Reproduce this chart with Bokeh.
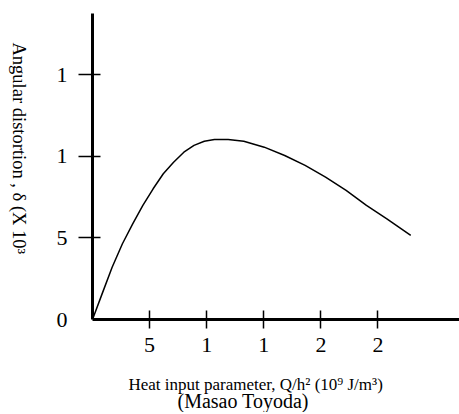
import math
from bokeh.plotting import figure
from bokeh.models import Range1d, FixedTicker, LinearAxis, Label
from bokeh.layouts import row, column
from bokeh.embed import file_html
from bokeh.resources import INLINE

# Data (heat input parameter vs angular distortion)
heat_input = [0.0, 0.84, 1.72, 2.62, 3.52, 4.41, 5.31, 6.20, 7.10, 8.00, 8.89, 9.79, 10.68,
              11.88, 13.25, 15.04, 16.83, 18.62, 20.41, 22.21, 23.99, 25.78, 27.87]
distortion = [0.0, 1.57, 3.20, 4.64, 5.86, 6.99, 8.01, 8.93, 9.64, 10.25, 10.67, 10.92, 11.03,
              11.03, 10.92, 10.56, 10.05, 9.44, 8.72, 7.91, 6.99, 6.17, 5.15]

x_ticks = [5, 10, 15, 20, 25]
x_tick_labels = ["5", "1", "1", "2", "2"]
y_ticks = [5, 10, 15]
y_label_ticks = [0, 5, 10, 15]
y_tick_labels = ["0", "5", "1", "1"]

x_title = "Heat input parameter, Q/h\u00b2  (10\u2079 J/m\u00b3)"
x_subtitle = "(Masao Toyoda)"
y_title = "Angular distortion , \u03b4 (X 10\u00b3"

FONT = "Liberation Serif"
W = 459
H = 412
LEFT_W = 36
MAIN_H = 366


def no_frame_align(f):
    try:
        f.frame_align = False
    except Exception:
        pass
    return f


def blank(width, height, xr, yr):
    f = figure(width=width, height=height, output_backend="svg", toolbar_location=None,
               x_range=xr, y_range=yr, x_axis_location=None, y_axis_location=None,
               min_border_left=0, min_border_right=0, min_border_top=0, min_border_bottom=0,
               outline_line_color=None, background_fill_color="white", border_fill_color="white")
    f.grid.visible = False
    return no_frame_align(f)


# narrow strip holding the vertical y-axis title (data coords = page pixels)
side = blank(LEFT_W, H, Range1d(0, LEFT_W), Range1d(H, 0))
side.add_layout(Label(x=18, y=42, text=y_title, angle=-math.pi / 2,
                      text_font=FONT, text_font_size="18.5px", text_color="black",
                      text_align="left", text_baseline="middle"))

# bottom strip holding the two-line x-axis title (data coords = page pixels)
bottom = blank(W - LEFT_W, H - MAIN_H, Range1d(LEFT_W, W), Range1d(H, MAIN_H))
bottom.add_layout(Label(x=128, y=384, text=x_title, text_font=FONT, text_font_size="17px",
                        text_color="black", text_align="left", text_baseline="alphabetic"))
bottom.add_layout(Label(x=177, y=400, text=x_subtitle, text_font=FONT, text_font_size="20px",
                        text_color="black", text_align="left", text_baseline="alphabetic"))

p = figure(width=W - LEFT_W, height=MAIN_H, output_backend="svg", toolbar_location=None,
           x_range=Range1d(0, 32.14), y_range=Range1d(0, 18.75),
           min_border_left=92 - LEFT_W, min_border_right=0, min_border_top=13,
           min_border_bottom=MAIN_H - 319,
           outline_line_color=None, background_fill_color="white", border_fill_color="white")
p.grid.visible = False
no_frame_align(p)

p.line(heat_input, distortion, line_color="black", line_width=1.5)

xa = p.xaxis[0]
xa.ticker = FixedTicker(ticks=x_ticks)
xa.major_label_overrides = {t: l for t, l in zip(x_ticks, x_tick_labels)}
xa.minor_tick_line_color = None
xa.axis_line_width = 3
xa.axis_line_color = "black"
xa.major_tick_in = 9
xa.major_tick_out = 9
xa.major_tick_line_width = 1.5
xa.major_label_text_font = FONT
xa.major_label_text_font_size = "22px"
xa.major_label_text_color = "black"
xa.major_label_standoff = 9

# inner y axis: line and tick marks only
ya = p.yaxis[0]
ya.ticker = FixedTicker(ticks=y_ticks)
ya.major_label_overrides = {t: "" for t in y_ticks}
ya.minor_tick_line_color = None
ya.axis_line_width = 3
ya.axis_line_color = "black"
ya.major_tick_in = 8
ya.major_tick_out = 14
ya.major_tick_line_width = 1.5
ya.major_label_standoff = 0

# outer y axis: tick labels only
ya2 = LinearAxis(ticker=FixedTicker(ticks=y_label_ticks))
ya2.major_label_overrides = {t: l for t, l in zip(y_label_ticks, y_tick_labels)}
ya2.axis_line_color = None
ya2.major_tick_line_color = None
ya2.minor_tick_line_color = None
ya2.major_tick_in = 0
ya2.major_tick_out = 0
ya2.major_label_text_font = FONT
ya2.major_label_text_font_size = "22px"
ya2.major_label_text_color = "black"
ya2.major_label_standoff = 11
p.add_layout(ya2, "left")

layout = row(side, column(p, bottom))
open("out.html", "w").write(file_html(layout, INLINE))
